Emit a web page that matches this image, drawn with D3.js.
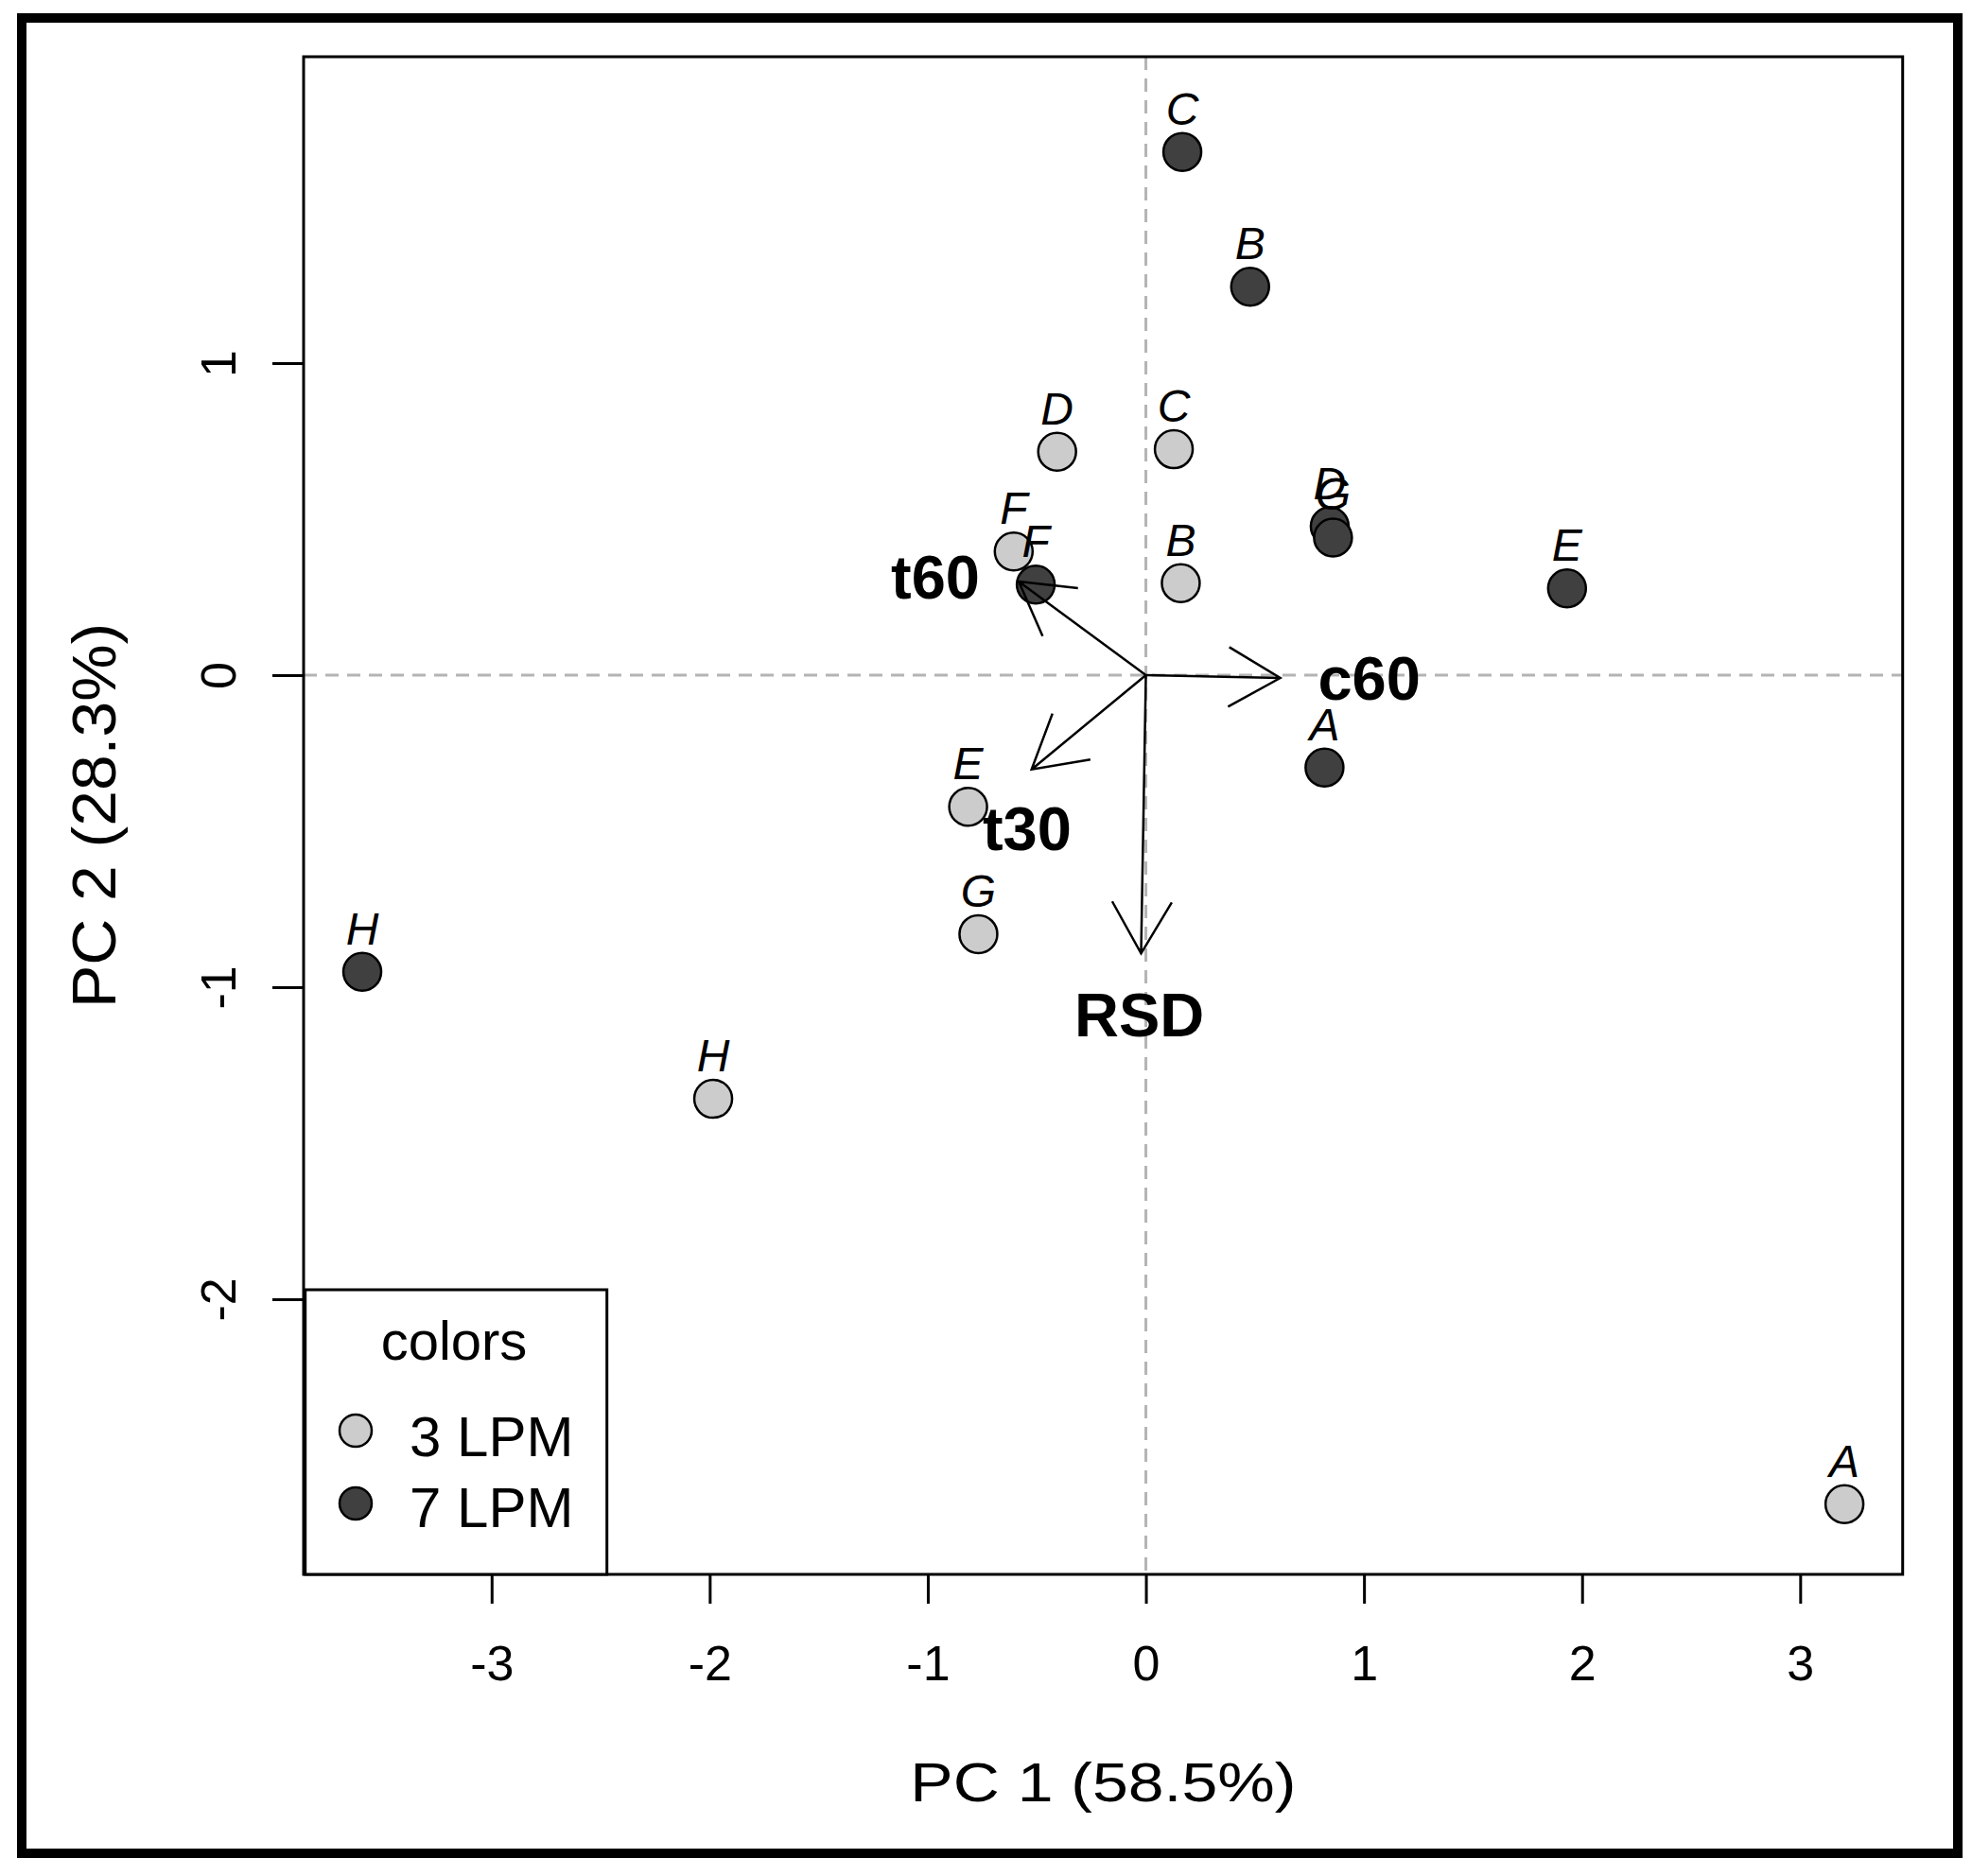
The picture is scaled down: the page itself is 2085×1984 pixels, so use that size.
<!DOCTYPE html>
<html>
<head>
<meta charset="utf-8">
<script src="https://cdn.jsdelivr.net/npm/d3@7"></script>
<style>
  body { margin: 0; background: #fff; }
  text { font-family: "Liberation Sans", Arial, sans-serif; }
</style>
</head>
<body>
<div id="chart"></div>
<script>
// data
const samples = ["A", "B", "C", "D", "E", "F", "G", "H"];
const pc1Low = [3.203, 0.160, 0.128, -0.407, -0.815, -0.606, -0.768, -1.984]; // 3 LPM
const pc2Low = [-2.657, 0.295, 0.724, 0.716, -0.422, 0.396, -0.830, -1.358];
const pc1High = [0.819, 0.478, 0.167, 0.843, 1.931, -0.505, 0.858, -3.593]; // 7 LPM
const pc2High = [-0.296, 1.245, 1.677, 0.477, 0.278, 0.290, 0.441, -0.951];

const loadingNames = ["c60", "t60", "t30", "RSD"];
const loadPC1 = [0.616, -0.583, -0.524, -0.022];
const loadPC2 = [-0.009, 0.300, -0.302, -0.892];
const loadLabelPC1 = [1.024, -0.965, -0.545, -0.030];
const loadLabelPC2 = [-0.008, 0.314, -0.492, -1.089];

const xTicks = [-3, -2, -1, 0, 1, 2, 3];
const yTicks = [-2, -1, 0, 1];
const legendLabels = ["3 LPM", "7 LPM"];
const groupColors = ["#cccccc", "#404040"];

const width = 2085, height = 1984;
const plot = { left: 321, right: 2011.7, top: 60, bottom: 1665 };

const x = d3.scaleLinear().domain([-3.862, 3.470]).range([plot.left, plot.right]);
const y = d3.scaleLinear().domain([-2.882, 1.982]).range([plot.bottom, plot.top]);

const svg = d3.select("#chart").append("svg")
  .attr("width", width).attr("height", height);

svg.append("rect").attr("width", width).attr("height", height).attr("fill", "#fff");

// outer frame
svg.append("rect")
  .attr("x", 23).attr("y", 19).attr("width", 2047).attr("height", 1941)
  .attr("fill", "none").attr("stroke", "#000").attr("stroke-width", 10);

// zero lines
svg.append("line")
  .attr("x1", x(0)).attr("x2", x(0)).attr("y1", plot.top).attr("y2", plot.bottom)
  .attr("stroke", "#b4b4b4").attr("stroke-width", 3).attr("stroke-dasharray", "14 9");
svg.append("line")
  .attr("x1", plot.left).attr("x2", plot.right).attr("y1", y(0)).attr("y2", y(0))
  .attr("stroke", "#b4b4b4").attr("stroke-width", 3).attr("stroke-dasharray", "14 9");

// axes (plain hyphen for negatives, like R)
const fmt = d => String(d);
const xAxis = svg.append("g")
  .attr("transform", `translate(0,${plot.bottom})`)
  .call(d3.axisBottom(x).tickValues(xTicks).tickSize(31).tickPadding(44).tickFormat(fmt));
const yAxis = svg.append("g")
  .attr("transform", `translate(${plot.left},0)`)
  .call(d3.axisLeft(y).tickValues(yTicks).tickSize(33).tickFormat(fmt));

[xAxis, yAxis].forEach(g => {
  g.select(".domain").remove();
  g.selectAll(".tick line").attr("stroke", "#000").attr("stroke-width", 3);
  g.selectAll(".tick text")
    .attr("fill", "#000")
    .style("font-size", "52px")
    .style("font-family", '"Liberation Sans", Arial, sans-serif');
});
yAxis.selectAll(".tick text")
  .attr("x", null).attr("dy", null)
  .attr("text-anchor", "middle")
  .attr("transform", "translate(-72,0) rotate(-90)");

// plot box
svg.append("rect")
  .attr("x", plot.left).attr("y", plot.top)
  .attr("width", plot.right - plot.left).attr("height", plot.bottom - plot.top)
  .attr("fill", "none").attr("stroke", "#000").attr("stroke-width", 3);

// axis titles
svg.append("text")
  .attr("x", (plot.left + plot.right) / 2).attr("y", 1905)
  .attr("text-anchor", "middle")
  .attr("textLength", 408).attr("lengthAdjust", "spacingAndGlyphs")
  .style("font-size", "57px")
  .text("PC 1 (58.5%)");
svg.append("text")
  .attr("transform", `translate(122,${(plot.top + plot.bottom) / 2}) rotate(-90)`)
  .attr("text-anchor", "middle")
  .attr("textLength", 407).attr("lengthAdjust", "spacingAndGlyphs")
  .style("font-size", "64px")
  .text("PC 2 (28.3%)");

// points
const points = [];
samples.forEach((s, i) => points.push({ name: s, px: pc1Low[i], py: pc2Low[i], g: 0 }));
samples.forEach((s, i) => points.push({ name: s, px: pc1High[i], py: pc2High[i], g: 1 }));

svg.append("g").selectAll("circle").data(points).join("circle")
  .attr("cx", d => x(d.px)).attr("cy", d => y(d.py)).attr("r", 20)
  .attr("fill", d => groupColors[d.g]).attr("stroke", "#000").attr("stroke-width", 2.5);

svg.append("g").selectAll("text").data(points).join("text")
  .attr("x", d => x(d.px)).attr("y", d => y(d.py) - 29)
  .attr("text-anchor", "middle")
  .style("font-size", "48px").style("font-style", "italic")
  .text(d => d.name);

// loading arrows
const arrows = loadingNames.map((n, i) => ({
  name: n, ax: loadPC1[i], ay: loadPC2[i], lx: loadLabelPC1[i], ly: loadLabelPC2[i]
}));
const headLen = 63, headAng = Math.PI / 6;
const ag = svg.append("g").attr("stroke", "#000").attr("stroke-width", 2.5).attr("fill", "none");
arrows.forEach(a => {
  const x0 = x(0), y0 = y(0), x1 = x(a.ax), y1 = y(a.ay);
  const ang = Math.atan2(y1 - y0, x1 - x0);
  const path = d3.path();
  path.moveTo(x0, y0);
  path.lineTo(x1, y1);
  path.moveTo(x1 - headLen * Math.cos(ang - headAng), y1 - headLen * Math.sin(ang - headAng));
  path.lineTo(x1, y1);
  path.lineTo(x1 - headLen * Math.cos(ang + headAng), y1 - headLen * Math.sin(ang + headAng));
  ag.append("path").attr("d", path.toString());
});

svg.append("g").selectAll("text").data(arrows).join("text")
  .attr("x", d => x(d.lx)).attr("y", d => y(d.ly) + 23)
  .attr("text-anchor", "middle")
  .style("font-size", "65px").style("font-weight", "bold")
  .text(d => d.name);

// legend
const lg = svg.append("g");
lg.append("rect")
  .attr("x", 322.7).attr("y", 1364).attr("width", 319).attr("height", plot.bottom - 1364)
  .attr("fill", "#fff").attr("stroke", "#000").attr("stroke-width", 3);
lg.append("text").attr("x", 480).attr("y", 1438).attr("text-anchor", "middle")
  .style("font-size", "58px").text("colors");
legendLabels.forEach((l, i) => {
  lg.append("circle").attr("cx", 376).attr("cy", 1513 + i * 77).attr("r", 17)
    .attr("fill", groupColors[i]).attr("stroke", "#000").attr("stroke-width", 2.5);
  lg.append("text").attr("x", 433).attr("y", 1540 + i * 75)
    .style("font-size", "60px").text(l);
});
</script>
</body>
</html>
